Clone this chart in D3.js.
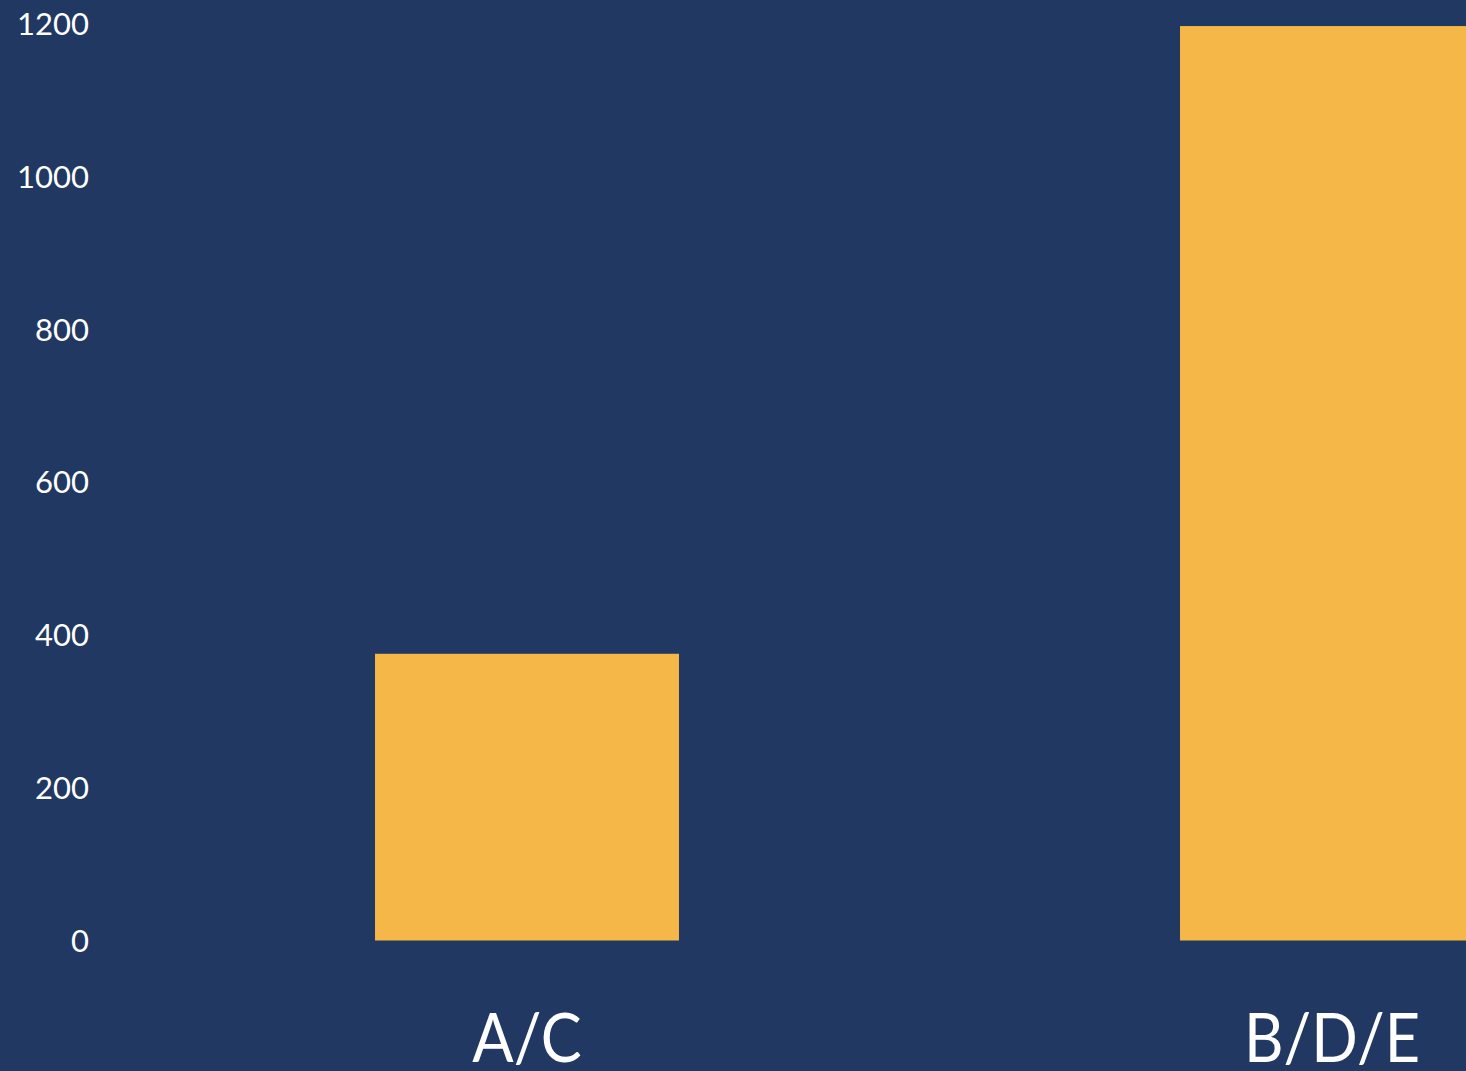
<!DOCTYPE html>
<html><head><meta charset="utf-8">
<script src="https://cdn.jsdelivr.net/npm/d3@7"></script>
<style>html,body{margin:0;padding:0;background:#213863;overflow:hidden}</style>
</head><body>
<svg id="c" width="1466" height="1071"></svg>
<script>
const categories = ["A/C", "B/D/E"];
const values = [375, 1196];
const yTicks = [0, 200, 400, 600, 800, 1000, 1200];

const W = 1466, H = 1071;
const svg = d3.select("#c");
svg.append("rect").attr("width", W).attr("height", H).attr("fill", "#213863");

const x = d3.scaleBand().domain(categories).range([124.5, 1734.5]).paddingInner(0.6224).paddingOuter(0.3112);
const y = d3.scaleLinear().domain([0, 1200]).range([940.5, 23]);

svg.selectAll("rect.bar").data(values).join("rect").attr("class", "bar")
  .attr("x", (d, i) => x(categories[i]))
  .attr("width", x.bandwidth())
  .attr("y", d => y(d))
  .attr("height", d => y(0) - y(d))
  .attr("fill", "#F5B748");

const yAxis = svg.append("g").attr("transform", "translate(89,0)")
  .call(d3.axisLeft(y).tickValues(yTicks).tickSize(0).tickPadding(0).tickFormat(d3.format("d")));
yAxis.select(".domain").remove();
yAxis.selectAll("text").attr("fill", "#ffffff").attr("font-family", "Lato, sans-serif").attr("font-size", 31).attr("dy", "0.36em");

const xAxis = svg.append("g").attr("transform", "translate(0,1062)")
  .call(d3.axisBottom(x).tickSize(0).tickPadding(0));
xAxis.select(".domain").remove();
xAxis.selectAll("text").attr("fill", "#ffffff").attr("font-family", "Lato, sans-serif").attr("font-size", 68).attr("dy", 0)
  .attr("transform", "scale(0.9,1)");
</script>
</body></html>
